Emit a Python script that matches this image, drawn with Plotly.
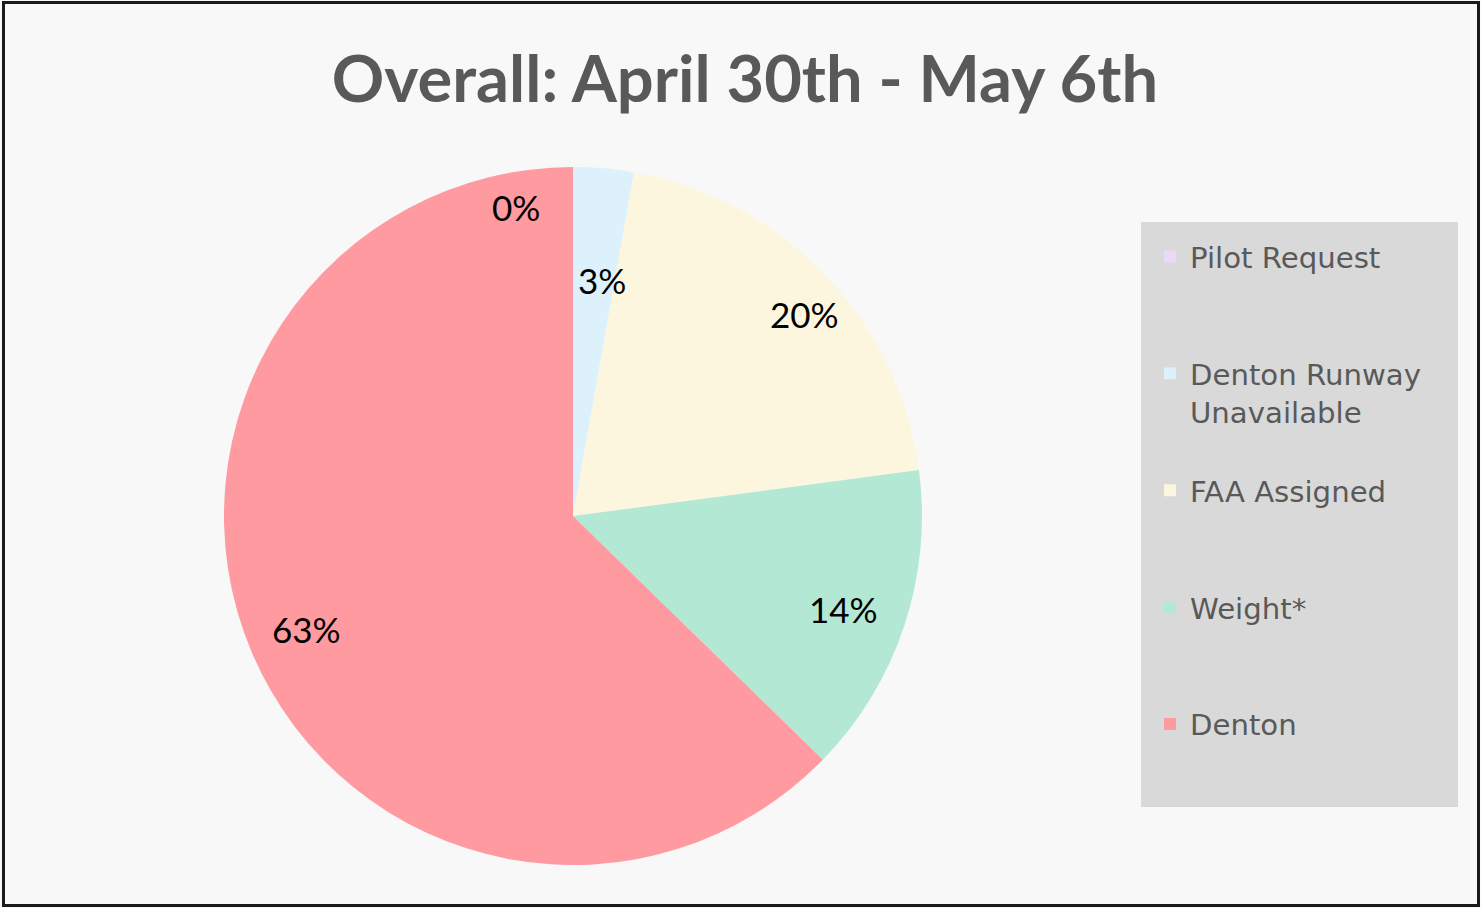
import math
import plotly.graph_objects as go

# ---- data ----
categories = ["Pilot Request", "Denton Runway Unavailable", "FAA Assigned", "Weight*", "Denton"]
legend_lines = [["Pilot Request"], ["Denton Runway", "Unavailable"], ["FAA Assigned"], ["Weight*"], ["Denton"]]
values = [0.0, 2.8, 20.1, 14.4, 62.7]
colors = ["#ead9f7", "#dcf1fb", "#fdf6df", "#b3e8d4", "#ff9aa1"]

# ---- label placement styles (fraction of radius, angular nudge in degrees) ----
label_rfrac = [0.90, 0.68, 0.88, 0.82, 0.83]
label_dang = [-10.5, 2.0, 2.6, 0.5, 0.0]

W, H = 1481, 908
cx, cy, R = 573, 516, 349

# legend text padded to equal slot heights (3 lines each)
legend_text = []
for lines in legend_lines:
    pad = ["&nbsp;"] * (3 - len(lines))
    legend_text.append("<br>".join(lines + pad))

total = sum(values)
pie = go.Pie(
    labels=legend_text,
    values=values,
    sort=False,
    direction="clockwise",
    rotation=0,
    marker=dict(colors=colors, line=dict(width=0)),
    textinfo="none",
    hoverinfo="label+percent",
    domain=dict(x=[(cx - R) / W, (cx + R) / W], y=[1 - (cy + R) / H, 1 - (cy - R) / H]),
)

fig = go.Figure(pie)

annotations = []
cum = 0.0
for v, rf, da in zip(values, label_rfrac, label_dang):
    mid = (cum + v / 2) / total * 360 + da
    cum += v
    th = math.radians(mid)
    xp = cx + R * rf * math.sin(th)
    yp = cy - R * rf * math.cos(th)
    annotations.append(dict(
        x=xp / W, y=1 - yp / H, xref="paper", yref="paper",
        text=f"{round(v / total * 100)}%", showarrow=False,
        font=dict(family="Lato", size=35, color="#000000"),
        xanchor="center", yanchor="middle",
    ))

fig.update_layout(
    width=W, height=H,
    margin=dict(l=0, r=0, t=0, b=0),
    paper_bgcolor="#f8f8f8",
    plot_bgcolor="#f8f8f8",
    title=dict(
        text="<b>Overall: April 30th - May 6th</b>",
        x=745 / W, xanchor="center",
        y=1 - 79 / H, yanchor="middle", yref="container",
        font=dict(family="Lato", size=65, color="#595959"),
    ),
    legend=dict(
        x=1150 / W, xanchor="left",
        y=1 - 231 / H, yanchor="top",
        bgcolor="rgba(0,0,0,0)",
        borderwidth=0,
        valign="top",
        font=dict(family="DejaVu Sans", size=29.2, color="#595959"),
        itemclick=False,
    ),
    annotations=annotations,
    shapes=[
        dict(
            type="rect", xref="paper", yref="paper", layer="below",
            x0=1141 / W, x1=1458 / W, y0=1 - 807 / H, y1=1 - 222 / H,
            line=dict(width=0), fillcolor="#d9d9d9",
        ),
        dict(
            type="rect", xref="paper", yref="paper",
            x0=3.5 / W, x1=1478.5 / W, y0=1 - 905.5 / H, y1=1 - 2.5 / H,
            line=dict(color="#1a1a1a", width=3), fillcolor="rgba(0,0,0,0)",
        ),
    ],
)

fig.write_html("out.html", config={"displayModeBar": False},
               post_script="document.body.style.margin='0';")
